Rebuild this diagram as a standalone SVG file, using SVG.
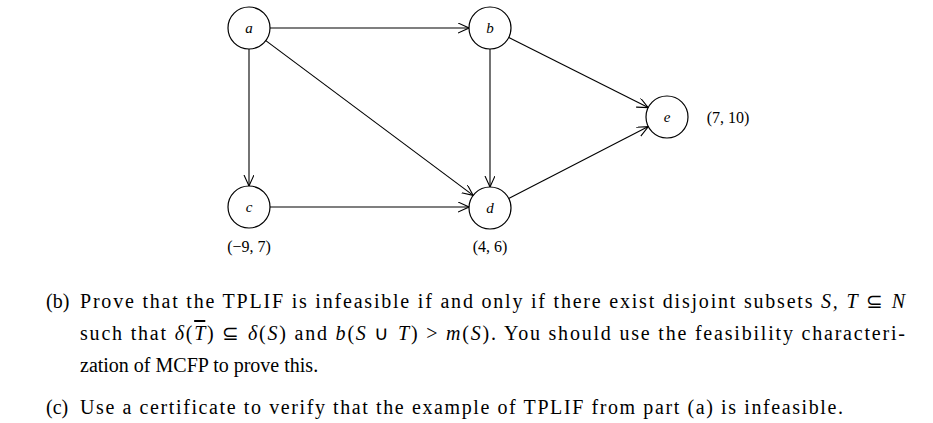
<svg xmlns="http://www.w3.org/2000/svg" width="933" height="423" viewBox="0 0 933 423">
<style>
.n{fill:#fff;stroke:#000;stroke-width:1.2}
.l{font-family:"Liberation Serif",serif;font-size:15px;font-style:italic;text-anchor:middle}
.c{font-family:"Liberation Serif",serif;font-size:16px;text-anchor:middle}
.e{stroke:#000;stroke-width:1.1;fill:none;marker-end:url(#ar)}
.t{font-family:"Liberation Serif",serif;font-size:20px}
.i{font-style:italic}
</style>
<defs><marker id="ar" markerUnits="userSpaceOnUse" markerWidth="12" markerHeight="12" refX="11" refY="5" orient="auto"><path d="M0,0 L11,5 L0,10" fill="none" stroke="#000" stroke-width="1.1"/></marker></defs>
<g id="edges">
<line class="e" x1="270" y1="28" x2="469" y2="28"/>
<line class="e" x1="249" y1="49" x2="249" y2="186"/>
<line class="e" x1="265.8" y1="40.6" x2="473.2" y2="195.4"/>
<line class="e" x1="270" y1="207" x2="469" y2="207"/>
<line class="e" x1="490" y1="49" x2="490" y2="187"/>
<line class="e" x1="508.8" y1="37.4" x2="648.2" y2="107.6"/>
<line class="e" x1="508.7" y1="198.4" x2="648.3" y2="126.6"/>
</g>
<g id="a"><circle class="n" cx="249" cy="28" r="21"/><text class="l" x="249" y="33">a</text></g>
<g id="b"><circle class="n" cx="490" cy="28" r="21"/><text class="l" x="490" y="33">b</text></g>
<g id="c"><circle class="n" cx="249" cy="207" r="21"/><text class="l" x="249" y="212">c</text></g>
<g id="d"><circle class="n" cx="490" cy="208" r="21"/><text class="l" x="490" y="213">d</text></g>
<g id="e"><circle class="n" cx="667" cy="117" r="21"/><text class="l" x="667" y="122">e</text></g>
<text class="c" x="728" y="123">(7, 10)</text>
<text class="c" x="249" y="252">(−9, 7)</text>
<text class="c" x="490" y="252">(4, 6)</text>
<text class="t" x="46" y="308">(b)</text>
<text class="t" x="80" y="308" textLength="825" lengthAdjust="spacing">Prove that the TPLIF is infeasible if and only if there exist disjoint subsets <tspan class="i">S, T</tspan> ⊆ <tspan class="i">N</tspan></text>
<text class="t" x="80" y="340" textLength="825" lengthAdjust="spacing">such that <tspan class="i">δ</tspan>(<tspan class="i" text-decoration="overline">T</tspan>) ⊆ <tspan class="i">δ</tspan>(<tspan class="i">S</tspan>) and <tspan class="i">b</tspan>(<tspan class="i">S</tspan> ∪ <tspan class="i">T</tspan>) &gt; <tspan class="i">m</tspan>(<tspan class="i">S</tspan>). You should use the feasibility characteri-</text>
<text class="t" x="80" y="372">zation of MCFP to prove this.</text>
<text class="t" x="46" y="414">(c)</text>
<text class="t" x="80" y="414" textLength="763" lengthAdjust="spacing">Use a certificate to verify that the example of TPLIF from part (a) is infeasible.</text>
</svg>
